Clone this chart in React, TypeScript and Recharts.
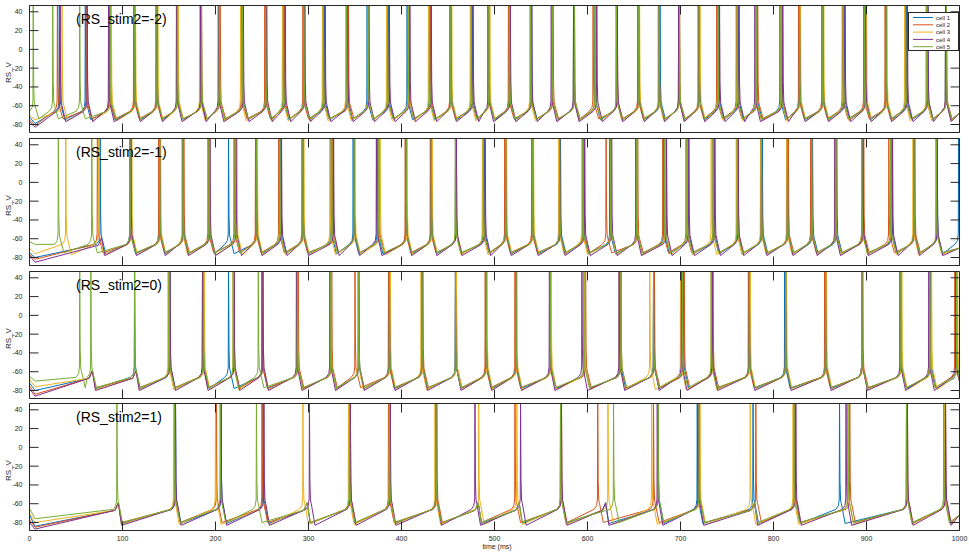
import React from 'react';
import { LineChart, Line, XAxis, YAxis } from 'recharts';

const timeTicks = [0, 100, 200, 300, 400, 500, 600, 700, 800, 900, 1000];
const voltTicks = [-80, -60, -40, -20, 0, 20, 40];
const cellNames = ['cell 1', 'cell 2', 'cell 3', 'cell 4', 'cell 5'];
const cellColors = ['#0072BD', '#D95319', '#EDB120', '#7E2F8E', '#77AC30'];
const stimLabels = ['(RS_stim2=-2)', '(RS_stim2=-1)', '(RS_stim2=0)', '(RS_stim2=1)'];

// spike times (ms) per cell
const spikesStimM2 = [
  [32, 60, 86, 113, 137, 159, 184, 204, 229, 254, 273, 295, 317, 341, 363, 386, 406, 430, 453, 476, 494, 516, 540, 562, 585, 608, 631, 655, 678, 698, 720, 741, 762, 782, 807, 828, 853, 876, 898, 921, 943, 966, 985],
  [30, 61, 86, 112, 136, 159, 185, 205, 228, 253, 274, 294, 316, 343, 364, 385, 408, 431, 452, 475, 494, 515, 539, 563, 586, 606, 632, 654, 677, 699, 719, 739, 760, 783, 809, 827, 852, 874, 897, 920, 942, 965, 986],
  [35, 62, 88, 114, 138, 160, 183, 204, 227, 255, 272, 296, 315, 340, 364, 384, 408, 429, 454, 474, 495, 517, 538, 562, 585, 609, 631, 656, 676, 698, 721, 740, 761, 781, 808, 829, 854, 875, 900, 922, 941, 964, 985],
  [33, 62, 85, 113, 137, 158, 184, 203, 230, 255, 275, 296, 318, 342, 365, 387, 409, 432, 453, 477, 493, 517, 540, 561, 585, 610, 632, 655, 677, 698, 720, 742, 763, 780, 810, 828, 853, 877, 899, 921, 944, 966, 985],
  [4, 25, 54, 87, 113, 137, 159, 185, 204, 229, 254, 273, 295, 316, 341, 364, 385, 407, 430, 453, 475, 494, 516, 539, 562, 586, 608, 631, 655, 677, 699, 720, 740, 761, 781, 808, 828, 853, 875, 898, 921, 942, 965, 986],
];
const spikesStimM1 = [
  [76, 108, 140, 165, 193, 214, 244, 270, 294, 324, 348, 374, 405, 432, 458, 489, 512, 541, 571, 595, 624, 653, 682, 708, 736, 761, 788, 815, 842, 868, 896, 927, 951, 976, 999],
  [73, 109, 139, 166, 192, 220, 243, 268, 293, 326, 349, 376, 404, 431, 459, 488, 511, 540, 570, 596, 620, 654, 681, 706, 735, 762, 787, 816, 840, 867, 897, 924, 952, 975],
  [39, 74, 110, 141, 164, 194, 223, 245, 269, 295, 323, 350, 377, 406, 433, 458, 487, 513, 542, 569, 594, 625, 653, 684, 707, 733, 760, 786, 814, 841, 866, 895, 926, 950, 975],
  [109, 140, 165, 194, 222, 244, 271, 294, 327, 349, 373, 405, 432, 459, 490, 512, 541, 570, 597, 626, 652, 685, 709, 737, 762, 787, 815, 841, 866, 896, 928, 951, 976],
  [31, 67, 108, 140, 165, 193, 221, 244, 269, 294, 325, 349, 375, 405, 432, 458, 488, 512, 541, 570, 595, 625, 653, 683, 707, 735, 761, 787, 815, 841, 867, 895, 926, 951, 975],
];
const spikesStim0 = [
  [113, 151, 187, 214, 250, 288, 324, 354, 387, 422, 458, 491, 523, 560, 597, 635, 671, 703, 734, 774, 812, 856, 895, 937, 969],
  [150, 186, 220, 250, 289, 325, 350, 386, 423, 459, 490, 522, 560, 598, 636, 672, 704, 735, 773, 813, 855, 896, 937, 968, 995],
  [149, 188, 219, 251, 288, 324, 353, 388, 421, 459, 492, 524, 561, 597, 634, 667, 700, 733, 775, 814, 857, 895, 938, 970, 998],
  [151, 186, 220, 251, 287, 323, 354, 387, 422, 458, 491, 523, 559, 594, 634, 671, 701, 734, 774, 813, 856, 895, 936, 967, 996],
  [54, 66, 113, 150, 187, 219, 246, 288, 324, 354, 387, 422, 458, 491, 523, 560, 596, 636, 671, 702, 733, 774, 813, 856, 895, 937, 968, 997],
];
const spikesStimP1 = [
  [157, 206, 251, 344, 387, 437, 571, 676, 718, 778, 823, 871, 943, 984],
  [156, 201, 250, 345, 386, 438, 522, 572, 611, 671, 720, 781, 823, 882, 944, 985],
  [155, 200, 252, 294, 343, 387, 436, 483, 524, 571, 622, 669, 721, 775, 821, 880, 943, 984],
  [157, 206, 252, 301, 345, 388, 437, 479, 528, 572, 675, 719, 824, 878, 944, 985],
  [94, 156, 205, 244, 344, 387, 437, 571, 628, 676, 720, 822, 880, 943, 983],
];

// population events (ms): cells that stay silent still show a bump here
const eventsStimM2 = [61, 86, 113, 137, 159, 184, 204, 228, 254, 273, 295, 316, 341, 364, 385, 407, 430, 453, 475, 494, 516, 539, 562, 585, 608, 631, 655, 677, 698, 720, 740, 761, 781, 808, 828, 853, 875, 898, 921, 942, 965, 985];
const eventsStimM1 = [76, 109, 140, 165, 193, 220, 244, 269, 294, 325, 349, 375, 405, 432, 458, 488, 512, 541, 570, 595, 623, 653, 683, 707, 735, 761, 787, 815, 841, 867, 896, 926, 951, 975];
const eventsStim0 = [66, 113, 150, 187, 218, 249, 288, 324, 353, 387, 422, 458, 491, 523, 560, 596, 635, 670, 702, 734, 774, 813, 856, 895, 937, 968, 996];
const eventsStimP1 = [94, 156, 203, 248, 297, 344, 387, 437, 481, 525, 571, 618, 673, 719, 778, 822, 877, 943, 984];

// voltage at t=0 and at the early dip, per cell
const startStimM2 = [[-72, -79], [-75, -81], [-70, -75], [-77, -83], [-65, -68]];
const startStimM1 = [[-75, -80], [-77, -82], [-70, -76], [-78, -85], [-63, -66]];
const startStim0 = [[-72, -80], [-75, -84], [-68, -76], [-78, -86], [-65, -70]];
const startStimP1 = [[-72, -84], [-77, -85], [-70, -80], [-80, -87], [-65, -76]];

const troughs = [-75, -76, -78, -81];
const endVolts = [-68, -70, -70, -72];

// one spike and one sub-threshold bump, [ms from event, mV]; null = trough
const spikeShape: [number, number | null][] = [[-4, -66], [-1.2, -62], [-0.3, -55], [0, 50], [0.5, -35], [1.1, -56], [2, -60], [6, null]];
const bumpShape: [number, number | null][] = [[-2, -67], [1.5, -59], [5, null]];
const troughOffset = [0, 1, -1, -2, 1];

const panels = [
  { spikes: spikesStimM2, events: eventsStimM2, start: startStimM2 },
  { spikes: spikesStimM1, events: eventsStimM1, start: startStimM1 },
  { spikes: spikesStim0, events: eventsStim0, start: startStim0 },
  { spikes: spikesStimP1, events: eventsStimP1, start: startStimP1 },
];

function buildTrace(spikes: number[], events: number[], start: number[], trough: number, endV: number) {
  const marks = [
    ...spikes.map((t) => ({ t, shape: spikeShape })),
    ...events.filter((e) => !spikes.some((s) => Math.abs(s - e) <= 10)).map((t) => ({ t, shape: bumpShape })),
  ].sort((a, b) => a.t - b.t);
  const firstT = marks.length ? marks[0].t + marks[0].shape[0][0] : 1000;
  const pts: { t: number; v: number }[] = [];
  if (0 < firstT) pts.push({ t: 0, v: start[0] });
  if (6 < firstT) pts.push({ t: 6, v: start[1] });
  marks.forEach((m) => {
    m.shape.forEach(([dt, v]) => pts.push({ t: m.t + dt, v: v === null ? trough : v }));
  });
  pts.push({ t: 1000, v: endV });
  const out: { t: number; v: number }[] = [];
  pts.sort((a, b) => a.t - b.t).forEach((p) => {
    if (!out.length || p.t > out[out.length - 1].t + 0.05) out.push(p);
  });
  return out;
}

const W = 969;
const H = 559;
const PLOT_LEFT = 29.5;
const PLOT_RIGHT = 959.5;
const PANEL_H = 127;
const panelTops = [5.5, 138.5, 271.5, 403.5];
const axisColor = '#262626';
const font = '"Liberation Sans", Arial, Helvetica, sans-serif';

const BottomTick = (props: any) => {
  const { x, y, payload, showLabel } = props;
  return (
    <g>
      <line x1={x} y1={y} x2={x} y2={y - 9} stroke={axisColor} strokeWidth={1} />
      {showLabel && (
        <text x={x} y={y + 10.5} textAnchor="middle" fontSize={7} fill={axisColor} fontFamily={font}>
          {payload.value}
        </text>
      )}
    </g>
  );
};
const TopTick = (props: any) => {
  const { x, y } = props;
  return <line x1={x} y1={y} x2={x} y2={y + 9} stroke={axisColor} strokeWidth={1} />;
};
const LeftTick = (props: any) => {
  const { x, y, payload } = props;
  return (
    <g>
      <line x1={x} y1={y} x2={x + 9} y2={y} stroke={axisColor} strokeWidth={1} />
      <text x={x - 7} y={y + 2.5} textAnchor="end" fontSize={7} fill={axisColor} fontFamily={font}>
        {payload.value}
      </text>
    </g>
  );
};
const RightTick = (props: any) => {
  const { x, y } = props;
  return <line x1={x} y1={y} x2={x - 9} y2={y} stroke={axisColor} strokeWidth={1} />;
};

function Panel({ idx }: { idx: number }) {
  const top = panelTops[idx];
  const p = panels[idx];
  const traces = p.spikes.map((s, c) =>
    buildTrace(s, p.events, p.start[c], troughs[idx] + troughOffset[c], endVolts[idx])
  );
  return (
    <div style={{ position: 'absolute', left: 0, top: 0 }}>
      <LineChart
        width={W}
        height={H}
        margin={{ top: top - 1, bottom: H - top - PANEL_H - 1, left: PLOT_LEFT - 1, right: W - PLOT_RIGHT - 1 }}
      >
        <XAxis
          xAxisId="b"
          type="number"
          dataKey="t"
          domain={[0, 1000]}
          ticks={timeTicks}
          interval={0}
          height={1}
          tickSize={0}
          tickMargin={0}
          tickLine={false}
          axisLine={{ stroke: axisColor }}
          tick={(tp: any) => <BottomTick {...tp} showLabel={idx === 3} />}
          allowDataOverflow
        />
        <XAxis
          xAxisId="t"
          orientation="top"
          type="number"
          dataKey="t"
          domain={[0, 1000]}
          ticks={timeTicks}
          interval={0}
          height={1}
          tickSize={0}
          tickMargin={0}
          tickLine={false}
          axisLine={{ stroke: axisColor }}
          tick={(tp: any) => <TopTick {...tp} />}
          allowDataOverflow
        />
        <YAxis
          yAxisId="l"
          type="number"
          domain={[-88.5, 46.7]}
          ticks={voltTicks}
          interval={0}
          width={1}
          tickSize={0}
          tickMargin={0}
          tickLine={false}
          axisLine={{ stroke: axisColor }}
          tick={(tp: any) => <LeftTick {...tp} />}
          allowDataOverflow
        />
        <YAxis
          yAxisId="r"
          orientation="right"
          type="number"
          domain={[-88.5, 46.7]}
          ticks={voltTicks}
          interval={0}
          width={1}
          tickSize={0}
          tickMargin={0}
          tickLine={false}
          axisLine={{ stroke: axisColor }}
          tick={(tp: any) => <RightTick {...tp} />}
          allowDataOverflow
        />
        {traces.map((d, c) => (
          <Line
            key={c}
            data={d}
            dataKey="v"
            xAxisId="b"
            yAxisId="l"
            type="linear"
            stroke={cellColors[c]}
            strokeWidth={1}
            dot={false}
            activeDot={false}
            isAnimationActive={false}
            name={cellNames[c]}
          />
        ))}
      </LineChart>
    </div>
  );
}

export default function App() {
  return (
    <div style={{ position: 'absolute', left: 0, top: 0, width: W, height: H, background: '#fff', overflow: 'hidden' }}>
      {panels.map((_, i) => (
        <Panel key={i} idx={i} />
      ))}
      <svg width={W} height={H} style={{ position: 'absolute', left: 0, top: 0 }}>
        {panelTops.map((top, i) => (
          <g key={i}>
            <text x={76} y={top + 18.5} fontSize={14} fill="#000" fontFamily={font}>
              {stimLabels[i]}
            </text>
            <text
              x={0}
              y={0}
              transform={`translate(11, ${top + 67}) rotate(-90)`}
              textAnchor="middle"
              fontSize={8}
              fill={axisColor}
              fontFamily={font}
            >
              RS_V
            </text>
          </g>
        ))}
        <text x={497} y={549} textAnchor="middle" fontSize={7} fill={axisColor} fontFamily={font}>
          time (ms)
        </text>
        <g>
          <rect x={908.5} y={12.5} width={50} height={38} fill="#fff" stroke={axisColor} strokeWidth={1} />
          {cellNames.map((n, c) => (
            <g key={n}>
              <line x1={913} y1={17.5 + c * 7.3} x2={933} y2={17.5 + c * 7.3} stroke={cellColors[c]} strokeWidth={1} />
              <text x={936} y={19.6 + c * 7.3} fontSize={6} fill={axisColor} fontFamily={font}>
                {n}
              </text>
            </g>
          ))}
        </g>
      </svg>
    </div>
  );
}
